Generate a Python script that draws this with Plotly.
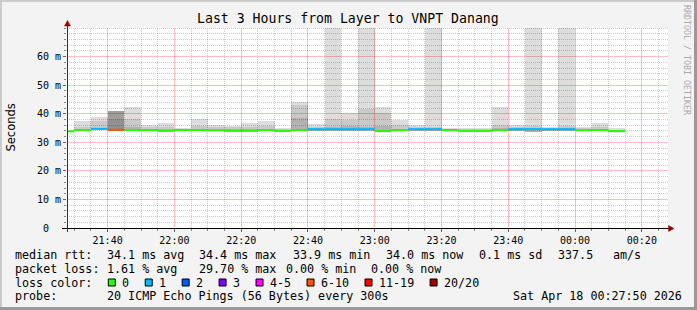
import math
import plotly.graph_objects as go
from datetime import datetime, timedelta

# ---------------- data ----------------
title_text = "Last 3 Hours from Layer to VNPT Danang"

bar_start = ["21:25", "21:30", "21:35", "21:40", "21:45", "21:50", "21:55",
             "22:00", "22:05", "22:10", "22:15", "22:20", "22:25", "22:30",
             "22:35", "22:40", "22:45", "22:50", "22:55", "23:00", "23:05",
             "23:10", "23:15", "23:20", "23:25", "23:30", "23:35", "23:40",
             "23:45", "23:50", "23:55", "00:00", "00:05", "00:10"]

median_ms = [33.8, 34.3, 34.7, 34.4, 34.3, 34.3, 34.1, 34.3, 34.3, 34.2,
             34.1, 34.1, 34.3, 34.0, 34.3, 34.6, 34.6, 34.6, 34.6, 33.9,
             34.3, 34.6, 34.6, 34.3, 34.0, 34.0, 34.3, 34.6, 34.6, 34.6,
             34.6, 34.2, 34.3, 33.9]

lost_pings = [0, 0, 1, 6, 0, 0, 0, 0, 0, 0, 0, 0, 0, 0, 0, 1, 1, 1, 1, 0,
              0, 1, 1, 0, 0, 0, 0, 1, 1, 1, 1, 0, 0, 0]

smoke_hi = [34.4, 37.4, 38.7, 40.9, 42.5, 36.0, 36.6, 34.9, 38.0, 36.2,
            35.8, 36.6, 37.3, 34.9, 44.2, 36.4, 95.0, 40.3, 105.0, 42.5,
            37.9, 36.2, 90.0, 34.9, 35.1, 35.0, 42.2, 36.2, 100.0, 35.5,
            88.0, 35.5, 36.7, 34.9]

smoke_mid = [34.2, 35.3, 37.5, 38.0, 38.0, 35.2, 35.3, 34.6, 35.6, 35.3,
             35.2, 35.5, 35.6, 34.5, 43.1, 35.3, 38.3, 37.9, 41.5, 40.2,
             36.0, 35.3, 35.5, 34.6, 34.7, 34.6, 36.2, 35.4, 35.6, 35.1,
             35.6, 35.0, 35.4, 34.4]

smoke_dark = [34.0, 34.6, 35.0, 36.0, 35.2, 34.6, 34.6, 34.5, 34.7, 34.6,
              34.5, 34.6, 34.7, 34.3, 38.4, 34.8, 35.4, 35.6, 35.3, 35.6,
              34.7, 34.8, 34.9, 34.5, 34.3, 34.3, 34.9, 34.9, 34.9, 34.8,
              34.9, 34.5, 34.6, 34.2]

smoke_lo = [33.5, 33.9, 34.2, 33.9, 33.9, 33.9, 33.7, 33.9, 33.9, 33.8,
            33.7, 33.7, 33.9, 33.6, 33.9, 34.1, 34.1, 34.1, 34.1, 33.5,
            33.9, 34.1, 34.0, 33.9, 33.6, 33.6, 33.9, 34.1, 33.5, 34.1,
            34.1, 33.8, 33.9, 33.5]

y_tick_vals = [0, 10, 20, 30, 40, 50, 60]
y_tick_text = ["0\u00a0\u00a0", "10 m", "20 m", "30 m", "40 m", "50 m", "60 m"]

loss_labels = ["0", "1", "2", "3", "4-5", "6-10", "11-19", "20/20"]
loss_low = [0, 1, 2, 3, 4, 6, 11, 20]
loss_high = [0, 1, 2, 3, 5, 10, 19, 20]
loss_colors = ["#26ff00", "#00b8ff", "#0059ff", "#7e00ff", "#ff00ff",
               "#ff5500", "#ff0000", "#a10000"]

stat_line1 = [("median rtt:", 15.3), ("34.1 ms avg", 106.6), ("34.4 ms max", 199.3),
              ("33.9 ms min", 292.6), ("34.0 ms now", 386.0), ("0.1 ms sd", 478.6),
              ("337.5", 557.6), ("am/s", 613.3)]
stat_line2 = [("packet loss:", 15.3), ("1.61 % avg", 106.6), ("29.70 % max", 199.3),
              ("0.00 % min", 286.0), ("0.00 % now", 371.3)]
stat_line4 = [("probe:", 15.3), ("20 ICMP Echo Pings (56 Bytes) every 300s", 106.6),
              ("Sat Apr 18 00:27:50 2026", 513.3)]

range_start = datetime(2026, 4, 17, 21, 27, 50)
range_end = datetime(2026, 4, 18, 0, 27, 50)
y_max = 70

# ---------------- helpers ----------------
W, H = 697, 310
L, R, T, B = 67, 668, 28, 228


def px(x):
    return (x - L) / (R - L)


def py(y):
    return (B - y) / (B - T)


def to_dt(hm):
    h, m = map(int, hm.split(":"))
    day = 17 if h >= 12 else 18
    return datetime(2026, 4, day, h, m)


starts = [to_dt(s) for s in bar_start]
ends = [s + timedelta(minutes=5) for s in starts]
centers = [s + timedelta(seconds=150) for s in starts]
STEP_MS = 300000

fig = go.Figure()


def alpha_list(normal, heavy):
    return ["rgba(0,0,0,%.3f)" % (heavy if lp >= 6 else normal) for lp in lost_pings]


fig.add_trace(go.Bar(x=centers, base=smoke_lo,
                     y=[d - l for d, l in zip(smoke_dark, smoke_lo)],
                     width=STEP_MS, marker=dict(color=alpha_list(0.30, 0.43), line=dict(width=0)),
                     hoverinfo="skip", showlegend=False))
fig.add_trace(go.Bar(x=centers, base=smoke_dark,
                     y=[m - d for m, d in zip(smoke_mid, smoke_dark)],
                     width=STEP_MS, marker=dict(color=alpha_list(0.21, 0.43), line=dict(width=0)),
                     hoverinfo="skip", showlegend=False))
fig.add_trace(go.Bar(x=centers, base=smoke_mid,
                     y=[h - m for h, m in zip(smoke_hi, smoke_mid)],
                     width=STEP_MS, marker=dict(color=alpha_list(0.135, 0.38), line=dict(width=0)),
                     hoverinfo="skip", showlegend=False))

for lo, hi, col in zip(loss_low, loss_high, loss_colors):
    xs, ys = [], []
    for s, e, m, lp in zip(starts, ends, median_ms, lost_pings):
        if lo <= lp <= hi:
            xs += [s, e, None]
            ys += [m, m, None]
    if xs:
        fig.add_trace(go.Scatter(x=xs, y=ys, mode="lines",
                                 line=dict(color=col, width=2),
                                 hoverinfo="skip", showlegend=False))

MONO = "DejaVu Sans Mono"
major_grid = "rgba(255,0,0,0.25)"
minor_grid = "rgba(0,0,0,0.2)"

fig.update_layout(
    width=W, height=H, autosize=False,
    margin=dict(l=L, r=W - R, t=T, b=H - B, pad=0),
    paper_bgcolor="#f3f3f3", plot_bgcolor="#ffffff",
    barmode="overlay", bargap=0,
    showlegend=False,
    xaxis=dict(
        type="date", range=[range_start, range_end],
        tick0="2026-04-17 21:40:00", dtick=1200000, tickformat="%H:%M",
        tickfont=dict(family=MONO, size=10, color="#000000"),
        showgrid=False,
        ticks="outside", ticklen=3, tickcolor="#666666",
        minor=dict(tick0="2026-04-17 21:25:00", dtick=300000, showgrid=False,
                   ticks="outside", ticklen=2, tickcolor="#888888"),
        zeroline=False, showline=False, fixedrange=True, automargin=False,
    ),
    yaxis=dict(
        range=[0, y_max], tickmode="array", tickvals=y_tick_vals, ticktext=y_tick_text,
        tickfont=dict(family=MONO, size=10, color="#000000"),
        showgrid=False,
        ticks="outside", ticklen=3, tickcolor="#666666",
        minor=dict(tickmode="linear", tick0=0, dtick=2, showgrid=False,
                   ticks="outside", ticklen=2, tickcolor="#888888"),
        zeroline=False, showline=False, fixedrange=True, automargin=False,
    ),
)

shapes = []
# grid lines, snapped to pixel centres
span = (range_end - range_start).total_seconds()
grid_lines = []
t = datetime(2026, 4, 17, 21, 30)
while t <= range_end:
    xpix = L + (t - range_start).total_seconds() / span * (R - L)
    xs = math.floor(xpix) + 0.5
    grid_lines.append((t.minute % 20 == 0, dict(type="line", xref="paper", yref="paper",
                                                 x0=px(xs), x1=px(xs), y0=0, y1=1)))
    t += timedelta(minutes=5)
for v in range(2, y_max + 1, 2):
    ypix = B - v / y_max * (B - T)
    ys_ = math.floor(ypix) + 0.5
    grid_lines.append((v % 10 == 0 and v < y_max, dict(type="line", xref="paper", yref="paper",
                                                        x0=0, x1=1, y0=py(ys_), y1=py(ys_))))
for is_major in (False, True):
    for maj, g in grid_lines:
        if maj == is_major:
            g["line"] = dict(color=major_grid if maj else minor_grid, width=1,
                             dash="solid" if maj else "1px,1px")
            g["layer"] = "below"
            shapes.append(g)

# frame
shapes.append(dict(type="rect", xref="paper", yref="paper", x0=px(0), x1=px(2), y0=py(0), y1=py(H),
                   fillcolor="#cbcbcb", line=dict(width=0), layer="above"))
shapes.append(dict(type="rect", xref="paper", yref="paper", x0=px(0), x1=px(W), y0=py(0), y1=py(2),
                   fillcolor="#cbcbcb", line=dict(width=0), layer="above"))
shapes.append(dict(type="rect", xref="paper", yref="paper", x0=px(W - 3), x1=px(W), y0=py(0), y1=py(H),
                   fillcolor="#999999", line=dict(width=0), layer="above"))
shapes.append(dict(type="rect", xref="paper", yref="paper", x0=px(0), x1=px(W), y0=py(H - 3), y1=py(H),
                   fillcolor="#999999", line=dict(width=0), layer="above"))
# axis lines
shapes.append(dict(type="line", xref="paper", yref="paper", x0=px(62), x1=px(669), y0=py(228.5), y1=py(228.5),
                   line=dict(color="#000000", width=1), layer="above"))
shapes.append(dict(type="line", xref="paper", yref="paper", x0=px(67.5), x1=px(67.5), y0=py(232), y1=py(25),
                   line=dict(color="#333333", width=1), layer="above"))


def tri(points):
    p = "M " + " L ".join("%f,%f" % (px(a), py(b)) for a, b in points) + " Z"
    return dict(type="path", xref="paper", yref="paper", path=p,
                fillcolor="#9b0000", line=dict(color="#9b0000", width=0.5), layer="above")


shapes.append(tri([(67.5, 20.5), (64.5, 26), (70.5, 26)]))
shapes.append(tri([(674, 228.5), (668.5, 225.5), (668.5, 231.5)]))

annotations = []
bx = 108.3
for lab, col in zip(loss_labels, loss_colors):
    shapes.append(dict(type="rect", xref="paper", yref="paper", x0=px(bx), x1=px(bx + 7),
                       y0=py(286), y1=py(279), fillcolor=col,
                       line=dict(color="#000000", width=1), layer="above"))
    annotations.append(dict(text=lab, x=px(bx + 14), y=py(282.7), xref="paper", yref="paper",
                            xanchor="left", yanchor="middle", showarrow=False,
                            font=dict(family=MONO, size=11.7, color="#000000"),
                            borderpad=0, borderwidth=0))
    bx += 14.6 + len(lab) * 7.03 + 15.3

annotations.append(dict(text="loss color:", x=px(15.3), y=py(282.7), xref="paper", yref="paper",
                        xanchor="left", yanchor="middle", showarrow=False,
                        font=dict(family=MONO, size=11.7, color="#000000"),
                        borderpad=0, borderwidth=0))

for line, yc in ((stat_line1, 255.0), (stat_line2, 268.6), (stat_line4, 296.3)):
    for txt, xx in line:
        annotations.append(dict(text=txt, x=px(xx), y=py(yc), xref="paper", yref="paper",
                                xanchor="left", yanchor="middle", showarrow=False,
                                font=dict(family=MONO, size=11.7, color="#000000"),
                                borderpad=0, borderwidth=0))

annotations.append(dict(text=title_text, x=px(348), y=py(18.5), xref="paper", yref="paper",
                        xanchor="center", yanchor="middle", showarrow=False,
                        font=dict(family=MONO, size=13.2, color="#000000"),
                        borderpad=0, borderwidth=0))
annotations.append(dict(text="Seconds", x=px(10), y=py(127.5), xref="paper", yref="paper",
                        xanchor="center", yanchor="middle", showarrow=False, textangle=-90,
                        font=dict(family="DejaVu Sans", size=11.5, color="#000000"),
                        borderpad=0, borderwidth=0))
annotations.append(dict(text="RRDTOOL / TOBI OETIKER", x=px(687), y=py(60), xref="paper", yref="paper",
                        xanchor="center", yanchor="middle", showarrow=False, textangle=90,
                        font=dict(family=MONO, size=8.3, color="#aaaaaa"),
                        borderpad=0, borderwidth=0))

fig.update_layout(shapes=shapes, annotations=annotations)

fig.write_html("out.html")
